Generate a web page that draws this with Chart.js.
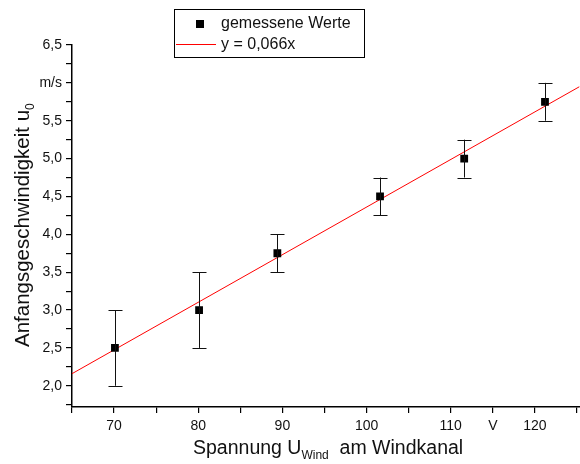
<!DOCTYPE html>
<html>
<head>
<meta charset="utf-8">
<script src="https://cdn.jsdelivr.net/npm/chart.js@4/dist/chart.umd.min.js"></script>
<style>
  html, body { margin: 0; padding: 0; background: #fff; overflow: hidden; }
  #wrap { width: 585px; height: 464px; }
</style>
</head>
<body>
<div id="wrap"><canvas id="chart"></canvas></div>
<script>
// measured values
const spannung = [70.1, 80.1, 89.4, 101.6, 111.6, 121.2];
const geschw = [2.5, 3.0, 3.75, 4.5, 5.0, 5.75];
const fehler = [0.5, 0.5, 0.25, 0.25, 0.25, 0.25];

// fit line end points as drawn
const fitX = [65, 125.3];
const fitY = [2.16, 5.95];

const xLabels = { 70: '70', 80: '80', 90: '90', 100: '100', 110: '110', 115: 'V', 120: '120' };
const yLabels = { 2: '2,0', 2.5: '2,5', 3: '3,0', 3.5: '3,5', 4: '4,0', 4.5: '4,5', 5: '5,0', 5.5: '5,5', 6: 'm/s', 6.5: '6,5' };

const FONT = '"Liberation Sans", Arial, sans-serif';

const errorBars = {
  id: 'errorBars',
  afterDatasetsDraw(chart) {
    const ctx = chart.ctx;
    const xs = chart.scales.x, ys = chart.scales.y;
    ctx.save();
    ctx.strokeStyle = '#111';
    ctx.lineWidth = 1;
    spannung.forEach((v, i) => {
      const px = Math.round(xs.getPixelForValue(v)) + 0.5;
      const top = ys.getPixelForValue(geschw[i] + fehler[i]);
      const bot = ys.getPixelForValue(geschw[i] - fehler[i]);
      ctx.beginPath();
      ctx.moveTo(px, top); ctx.lineTo(px, bot);
      ctx.moveTo(px - 7, Math.round(top) + 0.5); ctx.lineTo(px + 7, Math.round(top) + 0.5);
      ctx.moveTo(px - 7, Math.round(bot) + 0.5); ctx.lineTo(px + 7, Math.round(bot) + 0.5);
      ctx.stroke();
    });
    ctx.restore();
  }
};

const extras = {
  id: 'extras',
  afterDraw(chart) {
    const ctx = chart.ctx;
    ctx.save();
    ctx.fillStyle = '#111';
    // x title with subscript
    ctx.textBaseline = 'alphabetic';
    let x = 193, y = 454;
    const parts = [['Spannung U', 19.5, 0], ['Wind', 12, 5], ['  am Windkanal', 19.5, 0]];
    parts.forEach(p => {
      ctx.font = p[1] + 'px ' + FONT;
      ctx.fillText(p[0], x, y + p[2]);
      x += ctx.measureText(p[0]).width;
    });
    // y title rotated
    ctx.translate(29, 347);
    ctx.rotate(-Math.PI / 2);
    ctx.font = '20.5px ' + FONT;
    const t = 'Anfangsgeschwindigkeit u';
    ctx.fillText(t, 0, 0);
    const w = ctx.measureText(t).width;
    ctx.font = '12px ' + FONT;
    ctx.fillText('0', w, 5);
    ctx.restore();

    // legend box
    ctx.save();
    ctx.strokeStyle = '#000';
    ctx.lineWidth = 1;
    ctx.strokeRect(174.5, 9.5, 190, 48);
    ctx.fillStyle = '#000';
    ctx.fillRect(196, 20, 8, 8);
    ctx.strokeStyle = '#ff0000';
    ctx.beginPath();
    ctx.moveTo(176, 44.5); ctx.lineTo(216, 44.5);
    ctx.stroke();
    ctx.fillStyle = '#111';
    ctx.font = '16px ' + FONT;
    ctx.textBaseline = 'middle';
    ctx.fillText('gemessene Werte', 221, 24);
    ctx.fillText('y = 0,066x', 221, 45);
    ctx.restore();
  }
};

new Chart(document.getElementById('chart'), {
  type: 'scatter',
  data: {
    datasets: [
      {
        label: 'gemessene Werte',
        data: spannung.map((v, i) => ({ x: v, y: geschw[i] })),
        pointStyle: 'rect',
        pointRadius: 5.5,
        backgroundColor: '#000',
        borderColor: '#000',
        borderWidth: 0,
        order: 0
      },
      {
        label: 'y = 0,066x',
        type: 'line',
        data: fitX.map((v, i) => ({ x: v, y: fitY[i] })),
        borderColor: '#ff0000',
        borderWidth: 1,
        pointRadius: 0,
        showLine: true,
        order: 1
      }
    ]
  },
  options: {
    responsive: true,
    maintainAspectRatio: false,
    animation: false,
    layout: { padding: { top: 45, right: 0, left: 0, bottom: 0 } },
    plugins: { legend: { display: false }, tooltip: { enabled: false } },
    scales: {
      x: {
        type: 'linear',
        min: 65,
        max: 125.3,
        afterFit: s => { s.height = 57; s.paddingRight = 0; s.paddingLeft = 0; },
        border: { display: true, color: '#000', width: 1.5 },
        grid: { drawOnChartArea: false, drawTicks: true, tickLength: 6, color: '#000', lineWidth: 1.2 },
        ticks: {
          stepSize: 5,
          includeBounds: false,
          autoSkip: false,
          maxRotation: 0,
          color: '#111',
          padding: 5,
          font: { family: FONT, size: 14 },
          callback: v => xLabels[v] || ''
        }
      },
      y: {
        type: 'linear',
        min: 1.72,
        max: 6.5,
        afterFit: s => { s.width = 72; },
        border: { display: true, color: '#000', width: 1.5 },
        grid: { drawOnChartArea: false, drawTicks: true, tickLength: 6, color: '#000', lineWidth: 1.2 },
        ticks: {
          stepSize: 0.25,
          includeBounds: false,
          autoSkip: false,
          color: '#111',
          padding: 4,
          font: { family: FONT, size: 14 },
          callback: v => yLabels[Math.round(v * 100) / 100] || ''
        }
      }
    }
  },
  plugins: [errorBars, extras]
});
</script>
</body>
</html>
